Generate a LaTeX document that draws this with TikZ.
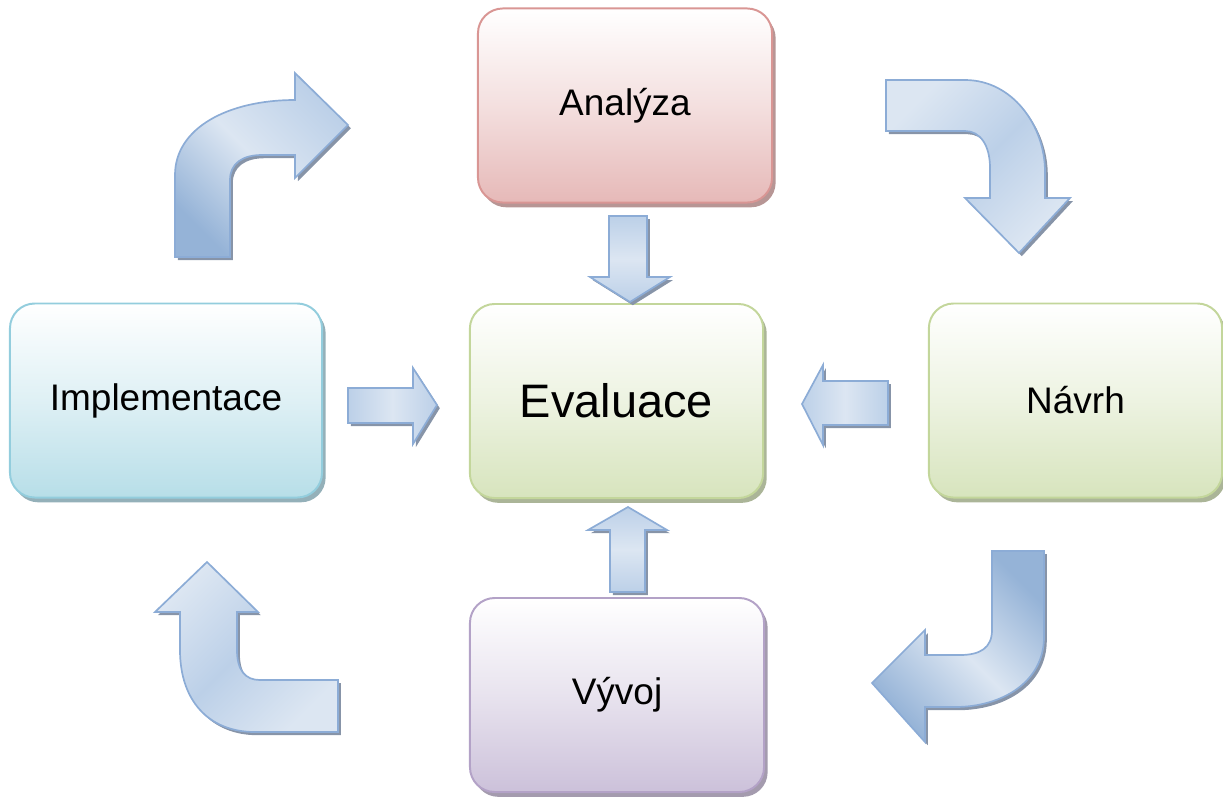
\documentclass[tikz,border=0pt]{standalone}
\usepackage{fontspec}
\setmainfont{Liberation Sans}
\usetikzlibrary{shadows}
\definecolor{anaedge}{HTML}{D99694}
\definecolor{anafill}{HTML}{E6B9B8}
\definecolor{evaedge}{HTML}{C3D69B}
\definecolor{evafill}{HTML}{D7E4BD}
\definecolor{impedge}{HTML}{93CDDD}
\definecolor{impfill}{HTML}{B7DEE8}
\definecolor{vyvedge}{HTML}{B3A2C7}
\definecolor{vyvfill}{HTML}{CCC1DA}
\definecolor{arrlight}{HTML}{DCE6F2}
\definecolor{arrmid}{HTML}{BCD0E8}
\definecolor{arrdark}{HTML}{95B3D7}
\definecolor{arredge}{RGB}{140,172,214}
\definecolor{arrshadow}{RGB}{135,148,168}
\tikzset{
  stepbox/.style={rectangle, rounded corners=0.62cm, minimum width=7.33cm, minimum height=4.85cm, line width=1.4pt, draw=#1edge, top color=white, bottom color=#1fill, middle color=#1fill!45, drop shadow={shadow xshift=0.09cm, shadow yshift=-0.12cm, fill=#1edge!70!black, opacity=0.7}, font=\fontsize{26.3}{30}\selectfont},
  blockarrow/.style={line width=1.2pt, draw=arredge, line join=miter, drop shadow={shadow xshift=0.07cm, shadow yshift=-0.08cm, fill=arrshadow, opacity=1}},
  midlight/.style={top color=arrmid, bottom color=arrmid, middle color=arrlight, shading angle=#1},
  endlight/.style={top color=arrlight, bottom color=arrlight, middle color=arrmid, shading angle=#1},
  enddark/.style={top color=arrdark, bottom color=arrdark, middle color=arrlight, shading angle=#1}
}
\begin{document}
\begin{tikzpicture}[x=0.025cm, y=-0.025cm]
    \useasboundingbox (0,0) rectangle (1223,798);
    % boxes
    \node (ana) [stepbox=ana, minimum width=7.35cm] at (625,105.5) {Analýza};
    \node (eva) [stepbox=eva, font=\fontsize{33.4}{38}\selectfont] at (616.5,401) {Evaluace};
    \node (nav) [stepbox=eva] at (1075.5,400.5) {Návrh};
    \node (imp) [stepbox=imp, minimum width=7.8cm] at (166,400.5) {Implementace};
    \node (vyv) [stepbox=vyv, minimum width=7.35cm] at (617,695) {Vývoj};

    % straight arrows into Evaluace
    \draw [blockarrow, midlight=0] (609,216) -- (647,216) -- (647,277) -- (670,277) -- (630,302) -- (590,277) -- (609,277) -- cycle;
    \draw [blockarrow, midlight=90] (348,388) -- (413,388) -- (413,368) -- (437,405) -- (413,444) -- (413,423) -- (348,423) -- cycle;
    \draw [blockarrow, midlight=90] (888,381) -- (823,381) -- (823,365) -- (802,404) -- (823,445) -- (823,425) -- (888,425) -- cycle;
    \draw [blockarrow, midlight=0] (610,592) -- (645,592) -- (645,530) -- (667,530) -- (628,507) -- (588,530) -- (610,530) -- cycle;

    % curved arrows round the cycle
    \draw [blockarrow, top color=arrmid, bottom color=arrdark, middle color=arrlight, shading angle=-45] (175,257) -- (175,175) .. controls (175,128) and (228,100) .. (295,100) -- (295,73) -- (348,125) -- (295,178) -- (295,155) -- (262,155) .. controls (243,155) and (230,163) .. (230,180) -- (230,257) -- cycle;
    \draw [blockarrow, endlight=45] (886,80) -- (965,80) .. controls (1012,80) and (1045,125) .. (1045,172) -- (1045,198) -- (1070,198) -- (1019,253) -- (965,198) -- (990,198) -- (990,168) .. controls (990,145) and (980,131) .. (965,131) -- (886,131) -- cycle;
    \draw [blockarrow, enddark=-45] (992,551) -- (1044,551) -- (1044,637) .. controls (1044,682) and (1002,707) .. (955,707) -- (925,707) -- (925,742) -- (872,683) -- (925,630) -- (925,655) -- (960,655) .. controls (980,655) and (992,648) .. (992,630) -- cycle;
    \draw [blockarrow, endlight=45] (338,680) -- (338,732) -- (255,732) .. controls (208,732) and (180,700) .. (180,650) -- (180,612) -- (155,612) -- (207,562) -- (258,612) -- (237,612) -- (237,650) .. controls (237,670) and (245,680) .. (260,680) -- cycle;
\end{tikzpicture}
\end{document}
